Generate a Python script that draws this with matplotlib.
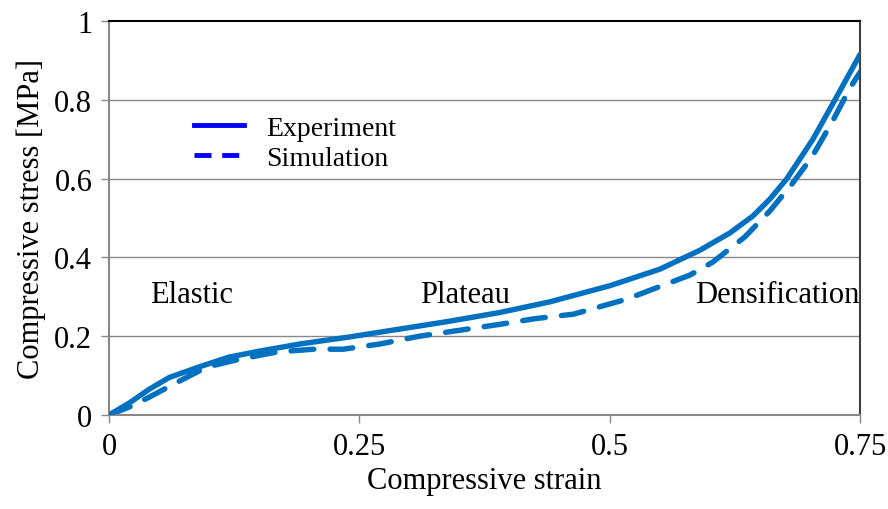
import matplotlib
matplotlib.use("Agg")
import matplotlib.pyplot as plt
from matplotlib.lines import Line2D

plt.rcParams['font.family'] = ['Liberation Serif', 'DejaVu Serif']

# experiment curve
strain_exp = [0, 0.02, 0.04, 0.06, 0.09, 0.12, 0.15, 0.19, 0.24, 0.29, 0.34,
              0.39, 0.44, 0.50, 0.55, 0.59, 0.62, 0.643, 0.66, 0.677, 0.703,
              0.725, 0.75]
stress_exp = [0, 0.03, 0.065, 0.095, 0.122, 0.147, 0.162, 0.18, 0.198, 0.218, 0.238,
              0.26, 0.287, 0.328, 0.37, 0.418, 0.462, 0.505, 0.548, 0.60, 0.70,
              0.80, 0.915]

# simulation curve
strain_sim = [0, 0.02, 0.04, 0.068, 0.098, 0.131, 0.168, 0.204, 0.234, 0.27, 0.31,
              0.35, 0.39, 0.424, 0.464, 0.517, 0.55, 0.58, 0.603, 0.635, 0.66,
              0.682, 0.702, 0.722, 0.74, 0.75]
stress_sim = [0, 0.02, 0.045, 0.083, 0.122, 0.142, 0.16, 0.167, 0.167, 0.18, 0.2,
              0.215, 0.23, 0.244, 0.256, 0.294, 0.326, 0.355, 0.388, 0.452, 0.518,
              0.586, 0.655, 0.743, 0.83, 0.87]

x_ticks = [0, 0.25, 0.5, 0.75]
x_labels = ['0', '0.25', '0.5', '0.75']
y_ticks = [0, 0.2, 0.4, 0.6, 0.8, 1.0]
y_labels = ['0', '0.2', '0.4', '0.6', '0.8', '1']

regions = ['Elastic', 'Plateau', 'Densification']
region_x = [0.082, 0.356, 0.667]
region_y = [0.305, 0.305, 0.305]

line_col = '#0070C0'

fig = plt.figure(figsize=(8.88, 5.10), dpi=100)
ax = fig.add_axes([0.1227, 0.1843, 0.8458, 0.7726])

for y in y_ticks[1:-1]:
    ax.axhline(y, color='#888888', lw=1.0, zorder=1)

ax.plot(strain_exp, stress_exp, color=line_col, lw=3.9, solid_capstyle='round',
        solid_joinstyle='round', zorder=3)
ax.plot(strain_sim, stress_sim, color=line_col, lw=3.9, dashes=(4.2, 3.0),
        dash_capstyle='round', dash_joinstyle='round', zorder=2)

ax.set_xlim(0, 0.75)
ax.set_ylim(0, 1)
ax.set_xticks(x_ticks)
ax.set_xticklabels(x_labels)
ax.set_yticks(y_ticks)
ax.set_yticklabels(y_labels)
ax.tick_params(axis='both', direction='out', length=6, width=1, color='#888888',
               labelsize=22, pad=6)

ax.spines['left'].set_color('#888888')
ax.spines['bottom'].set_color('#888888')
ax.spines['top'].set_color('black')
ax.spines['right'].set_color('#404040')
for s in ax.spines.values():
    s.set_linewidth(1.5)

ax.set_xlabel('Compressive strain', fontsize=22, labelpad=4)
ax.set_ylabel('Compressive stress [MPa]', fontsize=22, labelpad=6)

for name, xx, yy in zip(regions, region_x, region_y):
    ax.text(xx, yy, name, fontsize=22, ha='center', va='center')

handles = [Line2D([], [], color='#0000FF', lw=3.5),
           Line2D([], [], color='#0000FF', lw=3.5, dashes=(3.5, 2.2))]
ax.legend(handles, ['Experiment', 'Simulation'], loc='center left',
          bbox_to_anchor=(0.08, 0.69), frameon=False, fontsize=20,
          handlelength=1.8, handletextpad=0.8, labelspacing=0.15)

fig.savefig('out.png', dpi=100)
